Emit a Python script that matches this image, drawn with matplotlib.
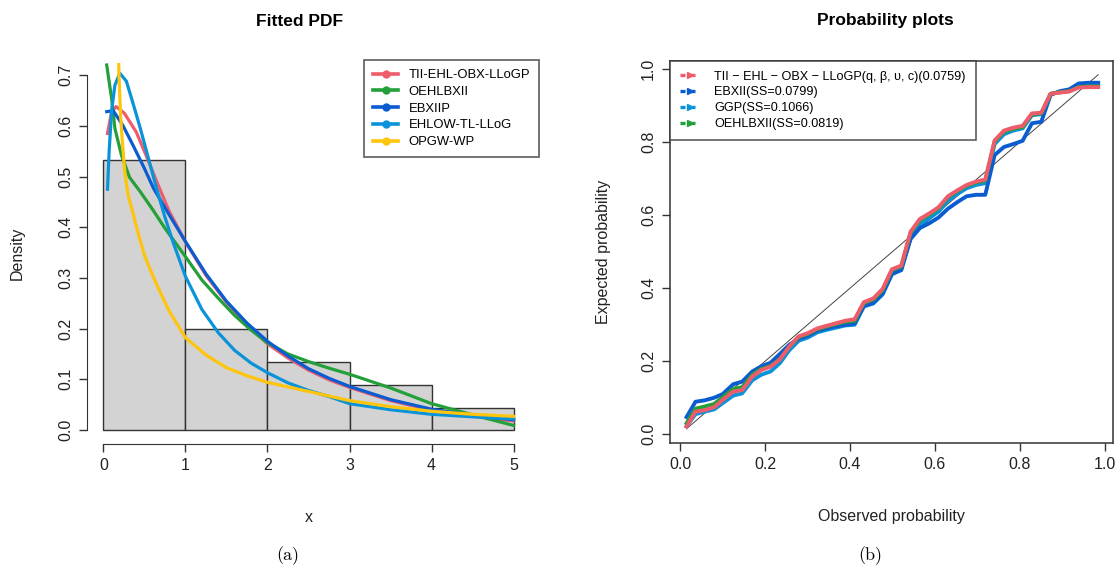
import matplotlib
matplotlib.use("Agg")
import matplotlib.pyplot as plt
from matplotlib.lines import Line2D

plt.rcParams["font.family"] = ["Liberation Sans", "DejaVu Sans"]

# ---- panel (a): histogram + fitted densities ----
bin_edges = [0, 1, 2, 3, 4, 5]
bin_density = [0.5333, 0.2, 0.1333, 0.0889, 0.0444]

red_x = [0.05, 0.10, 0.155, 0.255, 0.40, 0.52, 0.65, 0.80, 1.0, 1.25, 1.5, 1.75, 2.0, 2.25, 2.5, 2.75, 3.0, 3.5, 4.0, 4.5, 5.0]
red_y = [0.585, 0.628, 0.638, 0.625, 0.588, 0.542, 0.490, 0.432, 0.371, 0.305, 0.252, 0.208, 0.170, 0.142, 0.118, 0.099, 0.084, 0.058, 0.039, 0.027, 0.018]

green_x = [0.04, 0.10, 0.14, 0.22, 0.32, 0.45, 0.60, 0.75, 1.0, 1.2, 1.4, 1.6, 1.8, 2.0, 2.25, 2.5, 2.75, 3.0, 3.5, 4.0, 4.5, 5.0]
green_y = [0.72, 0.654, 0.595, 0.542, 0.498, 0.470, 0.435, 0.398, 0.342, 0.296, 0.260, 0.226, 0.197, 0.172, 0.150, 0.135, 0.122, 0.110, 0.083, 0.052, 0.030, 0.009]

blue_x = [0.04, 0.12, 0.24, 0.36, 0.50, 0.61, 0.80, 1.0, 1.25, 1.5, 1.75, 2.0, 2.25, 2.5, 2.75, 3.0, 3.5, 4.0, 4.5, 5.0]
blue_y = [0.628, 0.630, 0.600, 0.562, 0.516, 0.477, 0.425, 0.372, 0.308, 0.254, 0.211, 0.175, 0.146, 0.121, 0.102, 0.086, 0.060, 0.041, 0.029, 0.020]

ltblue_x = [0.05, 0.07, 0.10, 0.14, 0.20, 0.28, 0.36, 0.45, 0.55, 0.65, 0.75, 0.85, 1.0, 1.2, 1.4, 1.6, 1.8, 2.0, 2.25, 2.5, 2.75, 3.0, 3.5, 4.0, 4.5, 5.0]
ltblue_y = [0.475, 0.55, 0.63, 0.68, 0.704, 0.688, 0.645, 0.595, 0.535, 0.475, 0.42, 0.37, 0.303, 0.238, 0.192, 0.157, 0.132, 0.113, 0.093, 0.078, 0.066, 0.052, 0.040, 0.031, 0.026, 0.022]

yellow_x = [0.175, 0.19, 0.21, 0.23, 0.26, 0.30, 0.36, 0.42, 0.50, 0.60, 0.66, 0.80, 1.0, 1.25, 1.5, 1.75, 2.0, 2.5, 3.0, 3.5, 4.0, 4.5, 5.0]
yellow_y = [0.80, 0.70, 0.62, 0.57, 0.51, 0.464, 0.428, 0.39, 0.345, 0.305, 0.283, 0.235, 0.182, 0.148, 0.123, 0.107, 0.094, 0.076, 0.058, 0.046, 0.037, 0.031, 0.027]

pdf_labels = ["TII-EHL-OBX-LLoGP", "OEHLBXII", "EBXIIP", "EHLOW-TL-LLoG", "OPGW-WP"]

# ---- panel (b): probability plot ----
obs_p = [0.015, 0.036, 0.058, 0.080, 0.100, 0.125, 0.146, 0.170, 0.191, 0.213, 0.235, 0.257, 0.279, 0.301, 0.323,
         0.345, 0.367, 0.389, 0.411, 0.433, 0.455, 0.477, 0.499, 0.521, 0.543, 0.565, 0.587, 0.609, 0.631, 0.653,
         0.675, 0.697, 0.719, 0.741, 0.763, 0.785, 0.807, 0.829, 0.851, 0.873, 0.895, 0.917, 0.939, 0.961, 0.985]
tii_p = [0.021, 0.062, 0.066, 0.074, 0.094, 0.117, 0.121, 0.158, 0.176, 0.185, 0.205, 0.240, 0.268, 0.277, 0.290,
         0.297, 0.304, 0.311, 0.315, 0.362, 0.372, 0.398, 0.452, 0.462, 0.555, 0.590, 0.605, 0.622, 0.652, 0.668,
         0.683, 0.692, 0.698, 0.805, 0.832, 0.840, 0.845, 0.879, 0.881, 0.933, 0.936, 0.939, 0.950, 0.951, 0.951]
ebxii_p = [0.047, 0.089, 0.093, 0.100, 0.110, 0.137, 0.144, 0.172, 0.186, 0.196, 0.220, 0.245, 0.262, 0.270, 0.284,
           0.290, 0.296, 0.300, 0.303, 0.352, 0.360, 0.385, 0.440, 0.450, 0.535, 0.565, 0.578, 0.594, 0.618, 0.636,
           0.652, 0.656, 0.656, 0.765, 0.787, 0.795, 0.804, 0.852, 0.856, 0.930, 0.940, 0.945, 0.961, 0.963, 0.963]
ggp_p = [0.022, 0.055, 0.062, 0.068, 0.085, 0.106, 0.112, 0.148, 0.163, 0.172, 0.195, 0.230, 0.256, 0.265, 0.279,
         0.286, 0.292, 0.298, 0.300, 0.350, 0.358, 0.383, 0.438, 0.450, 0.540, 0.575, 0.592, 0.610, 0.640, 0.658,
         0.674, 0.683, 0.688, 0.795, 0.822, 0.832, 0.838, 0.874, 0.877, 0.932, 0.938, 0.943, 0.956, 0.958, 0.958]
oehl_p = [0.030, 0.070, 0.076, 0.083, 0.101, 0.124, 0.129, 0.163, 0.179, 0.187, 0.206, 0.240, 0.266, 0.275, 0.288,
          0.295, 0.302, 0.308, 0.311, 0.360, 0.369, 0.395, 0.450, 0.460, 0.552, 0.587, 0.602, 0.619, 0.650, 0.666,
          0.681, 0.690, 0.695, 0.802, 0.829, 0.837, 0.842, 0.877, 0.879, 0.933, 0.937, 0.940, 0.951, 0.953, 0.953]
pp_labels = ["TII − EHL − OBX − LLoGP(q, β, υ, c)(0.0759)", "EBXII(SS=0.0799)", "GGP(SS=0.1066)", "OEHLBXII(SS=0.0819)"]

RED = "#EE5C6C"
GREEN = "#23A03A"
BLUE = "#0B5CD0"
LTBLUE = "#0B93DA"
YELLOW = "#FFC40C"
AXCOL = "#333333"

fig = plt.figure(figsize=(11.2, 5.7), dpi=100)


def r_ticks(ax):
    ax.tick_params(direction="out", length=6, width=1, color=AXCOL, labelsize=11.5, labelcolor="#222222", pad=4)
    for lab in ax.get_yticklabels():
        lab.set_rotation(90)
        lab.set_va("center")


# (a)
ax1 = fig.add_axes([87 / 1120, 1 - 444 / 570, 443 / 1120, 381 / 570])
ax1.bar(bin_edges[:-1], bin_density, width=1, align="edge", color="#D3D3D3", edgecolor=AXCOL, linewidth=1)
lw = 2.3
ax1.plot(red_x, red_y, color=RED, lw=lw, label=pdf_labels[0])
ax1.plot(green_x, green_y, color=GREEN, lw=lw, label=pdf_labels[1])
ax1.plot(blue_x, blue_y, color=BLUE, lw=lw, label=pdf_labels[2])
ax1.plot(ltblue_x, ltblue_y, color=LTBLUE, lw=lw, label=pdf_labels[3])
ax1.plot(yellow_x, yellow_y, color=YELLOW, lw=lw, label=pdf_labels[4])
ax1.set_xlim(-0.2, 5.2)
ax1.set_ylim(-0.0276, 0.724)
ax1.set_xticks([0, 1, 2, 3, 4, 5])
ax1.set_yticks([0.0, 0.1, 0.2, 0.3, 0.4, 0.5, 0.6, 0.7])
ax1.set_yticklabels(["0.0", "0.1", "0.2", "0.3", "0.4", "0.5", "0.6", "0.7"])
for s in ("top", "right"):
    ax1.spines[s].set_visible(False)
ax1.spines["left"].set_bounds(0, 0.7)
ax1.spines["bottom"].set_bounds(0, 5)
for s in ("left", "bottom"):
    ax1.spines[s].set_color(AXCOL)
r_ticks(ax1)
ax1.set_xlabel("x", fontsize=11.5, labelpad=27, color="#222222")
ax1.set_ylabel("Density", fontsize=11.5, labelpad=24, color="#222222")
handles1 = [Line2D([], [], color=c, lw=2.6, marker="o", markersize=5) for c in (RED, GREEN, BLUE, LTBLUE, YELLOW)]
leg1 = ax1.legend(handles1, pdf_labels, loc="upper left", bbox_to_anchor=(364 / 1120, 1 - 60 / 570),
                  bbox_transform=fig.transFigure, fontsize=9.4, frameon=True, fancybox=False,
                  edgecolor=AXCOL, handlelength=1.9, handletextpad=0.8, labelspacing=0.35, borderpad=0.7,
                  borderaxespad=0)
leg1.get_frame().set_linewidth(1.2)

# (b)
ax2 = fig.add_axes([670 / 1120, 1 - 443 / 570, 443 / 1120, 382.5 / 570])
ax2.plot([obs_p[0], obs_p[-1]], [obs_p[0], obs_p[-1]], color="#444444", lw=0.7)
lw2 = 2.8
ax2.plot(obs_p, ggp_p, color=LTBLUE, lw=lw2)
ax2.plot(obs_p, ebxii_p, color=BLUE, lw=lw2)
ax2.plot(obs_p, oehl_p, color=GREEN, lw=lw2)
ax2.plot(obs_p, tii_p, color=RED, lw=lw2)
ax2.set_xlim(-0.024, 1.02)
ax2.set_ylim(-0.024, 1.024)
ax2.set_xticks([0.0, 0.2, 0.4, 0.6, 0.8, 1.0])
ax2.set_xticklabels(["0.0", "0.2", "0.4", "0.6", "0.8", "1.0"])
ax2.set_yticks([0.0, 0.2, 0.4, 0.6, 0.8, 1.0])
ax2.set_yticklabels(["0.0", "0.2", "0.4", "0.6", "0.8", "1.0"])
for s in ax2.spines.values():
    s.set_color(AXCOL)
    s.set_linewidth(1.1)
r_ticks(ax2)
ax2.set_xlabel("Observed probability", fontsize=11.5, labelpad=27, color="#222222")
ax2.set_ylabel("Expected probability", fontsize=11.5, labelpad=22, color="#222222")
handles2 = [Line2D([], [], color=c, lw=2.4, ls=(0, (1.5, 1.5)), marker=">", markersize=5)
            for c in (RED, BLUE, LTBLUE, GREEN)]
leg2 = ax2.legend(handles2, pp_labels, loc="upper left", bbox_to_anchor=(0, 1),
                  fontsize=9.1, frameon=True, fancybox=False,
                  edgecolor=AXCOL, handlelength=1.6, handletextpad=1.1, labelspacing=0.3, borderpad=0.8,
                  borderaxespad=0)
leg2.get_frame().set_linewidth(1.2)

fig.text(300 / 1120, 1 - 21 / 570, "Fitted PDF", ha="center", va="center", fontsize=12.5, fontweight="bold")
fig.text(885 / 1120, 1 - 21 / 570, "Probability plots", ha="center", va="center", fontsize=12.5, fontweight="bold")
fig.text(288 / 1120, 1 - 556 / 570, "(a)", ha="center", va="center", fontsize=13, family=["cmr10", "DejaVu Serif"])
fig.text(870 / 1120, 1 - 556 / 570, "(b)", ha="center", va="center", fontsize=13, family=["cmr10", "DejaVu Serif"])

fig.savefig("out.png", dpi=100)
